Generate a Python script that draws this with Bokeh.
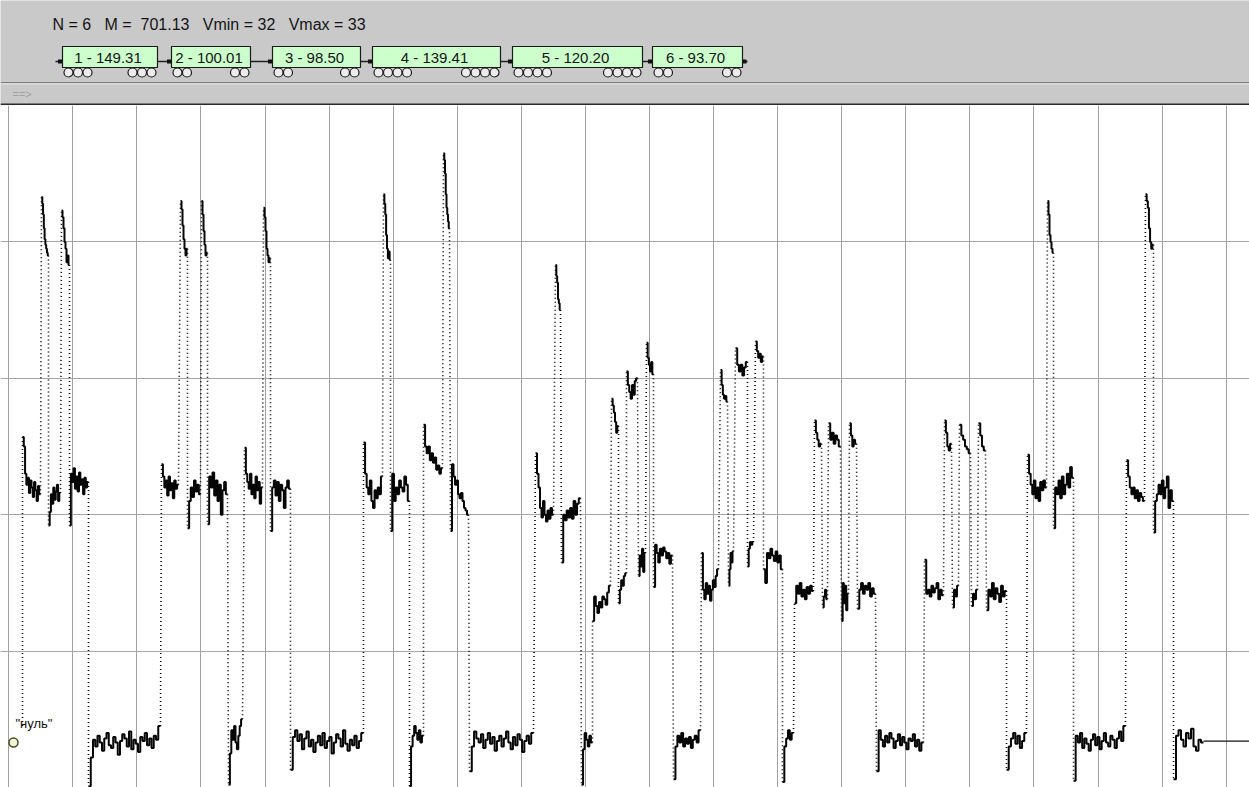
import numpy as np
from bokeh.plotting import figure
from bokeh.layouts import column
from bokeh.models import Range1d, FixedTicker
from bokeh.embed import file_html
from bokeh.resources import INLINE
from bokeh.core.properties import value

FONT = value("Liberation Sans")
NB = "\u00a0"

# ---------------- data ----------------
wagon_numbers = [1, 2, 3, 4, 5, 6]
wagon_weights = [149.31, 100.01, 98.50, 139.41, 120.20, 93.70]
wagon_axles = [6, 4, 4, 8, 8, 4]
v_min = 32
v_max = 33

zero_label = '"нуль"'
zero_time = 13
zero_level = 0.33
tail_level = 0.34
tail_end = 1249

# signal: solid stretches (start time, end time, sampled levels); jumps between them are dotted
seg_start = [22, 41, 48, 61, 69, 88, 161, 180, 187, 201, 207, 228, 244, 263, 270,
             290, 363, 383, 390, 409, 423, 443, 450, 469, 535, 555, 561, 581, 592, 611,
             618, 626, 638, 646, 653, 673, 701, 720, 728, 735, 747, 755, 763, 782, 794,
             814, 822, 828, 841, 849, 857, 876, 924, 944, 952, 959, 971, 978, 986, 1006,
             1027, 1047, 1053, 1073, 1126, 1145, 1153, 1173]
seg_end = [40, 48, 60, 69, 88, 160, 178, 187, 200, 207, 227, 242, 262, 270, 290,
           363, 382, 390, 409, 423, 442, 449, 468, 533, 553, 560, 580, 592, 610, 618,
           626, 637, 645, 653, 672, 700, 718, 727, 733, 747, 753, 763, 782, 793, 813,
           821, 827, 840, 848, 856, 875, 923, 943, 951, 958, 970, 977, 985, 1006, 1026,
           1046, 1053, 1073, 1125, 1144, 1153, 1173, 1203]
seg_values = [
    [2.57, 2.5, 2.3, 2.22, 2.27, 2.16, 2.25, 2.2, 2.13, 2.24, 2.18, 2.1, 2.21, 2.15],
    [4.33, 4.28, 4.2, 4.1, 4.02, 3.98, 3.95, 3.92, 3.9],
    [1.92, 2.02, 2.15, 2.08, 2.2, 2.11, 2.17, 2.22, 2.1, 2.16],
    [4.23, 4.18, 4.1, 4.0, 3.95, 3.85, 3.9, 3.83],
    [1.92, 2.3, 2.24, 2.34, 2.19, 2.28, 2.17, 2.31, 2.22, 2.26, 2.15, 2.27, 2.2, 2.24],
    [0.01, 0.22, 0.35, 0.3, 0.38, 0.33, 0.27, 0.36, 0.4, 0.31, 0.29, 0.37, 0.33, 0.24,
     0.34, 0.39, 0.36, 0.3, 0.41, 0.28, 0.35, 0.32, 0.26, 0.37, 0.34, 0.4, 0.31, 0.36,
     0.29, 0.38, 0.35, 0.45],
    [2.37, 2.28, 2.2, 2.25, 2.14, 2.28, 2.18, 2.23, 2.12, 2.25, 2.19, 2.22],
    [4.3, 4.24, 4.12, 4.02, 3.95, 3.9, 3.95],
    [1.9, 2.1, 2.2, 2.13, 2.25, 2.17, 2.22, 2.15],
    [4.3, 4.2, 4.08, 3.98, 3.9, 3.92],
    [1.93, 2.28, 2.2, 2.31, 2.14, 2.25, 2.1, 2.22, 2.0, 2.18, 2.24, 2.15],
    [0.02, 0.25, 0.42, 0.35, 0.45, 0.33, 0.28, 0.38, 0.45, 0.5],
    [2.49, 2.3, 2.24, 2.19, 2.3, 2.15, 2.22, 2.12, 2.28, 2.18, 2.24, 2.08, 2.2],
    [4.25, 4.18, 4.08, 3.95, 3.9, 3.85, 3.88],
    [1.88, 2.2, 2.25, 2.14, 2.24, 2.1, 2.22, 2.18, 2.05, 2.2, 2.25, 2.19],
    [0.13, 0.37, 0.42, 0.34, 0.39, 0.28, 0.36, 0.41, 0.3, 0.35, 0.26, 0.33, 0.38, 0.31,
     0.4, 0.29, 0.34, 0.37, 0.25, 0.33, 0.39, 0.36, 0.3, 0.42, 0.32, 0.27, 0.35, 0.31,
     0.38, 0.29, 0.34, 0.4],
    [2.53, 2.3, 2.2, 2.15, 2.25, 2.1, 2.05, 2.18, 2.12, 2.2, 2.15, 2.28],
    [4.35, 4.28, 4.2, 4.05, 3.95, 3.88, 3.93, 3.87],
    [1.88, 2.3, 2.1, 2.2, 2.15, 2.25, 2.2, 2.17, 2.28, 2.22, 2.1],
    [0.01, 0.3, 0.38, 0.45, 0.4, 0.35, 0.42, 0.33, 0.38],
    [2.66, 2.5, 2.45, 2.5, 2.4, 2.45, 2.38, 2.42, 2.33, 2.36, 2.3, 2.34],
    [4.65, 4.6, 4.5, 4.35, 4.25, 4.2, 4.15, 4.1],
    [1.88, 2.37, 2.28, 2.22, 2.25, 2.15, 2.12, 2.16, 2.1, 2.05, 2.03, 2.0],
    [0.12, 0.3, 0.41, 0.36, 0.33, 0.39, 0.29, 0.35, 0.4, 0.32, 0.37, 0.27, 0.34, 0.38,
     0.3, 0.36, 0.41, 0.33, 0.28, 0.37, 0.31, 0.39, 0.35, 0.26, 0.34, 0.38, 0.32, 0.4],
    [2.45, 2.3, 2.2, 2.05, 1.98, 2.1, 2.0, 1.95, 2.03, 1.97, 2.05, 2.0],
    [3.83, 3.75, 3.7, 3.58, 3.55, 3.5],
    [1.65, 2.0, 1.96, 2.03, 1.98, 2.05, 1.97, 2.1, 2.0, 2.08, 2.12],
    [0.02, 0.28, 0.4, 0.35, 0.3, 0.38, 0.33],
    [1.22, 1.4, 1.33, 1.28, 1.36, 1.32, 1.4, 1.38, 1.34, 1.43, 1.48],
    [2.85, 2.8, 2.75, 2.68, 2.6, 2.65],
    [1.35, 1.45, 1.52, 1.48, 1.55, 1.57],
    [3.05, 2.95, 2.9, 2.85, 2.95, 2.88, 2.98, 3.0],
    [1.55, 1.7, 1.62, 1.75, 1.58, 1.72],
    [3.26, 3.15, 3.1, 3.05, 3.12, 3.03],
    [1.47, 1.78, 1.72, 1.65, 1.75, 1.7, 1.76, 1.73, 1.68, 1.72, 1.64, 1.7],
    [0.06, 0.3, 0.38, 0.33, 0.4, 0.3, 0.36, 0.32, 0.37, 0.29, 0.35, 0.38, 0.33, 0.42],
    [1.72, 1.45, 1.38, 1.5, 1.42, 1.48, 1.37, 1.45, 1.52, 1.47, 1.55, 1.6],
    [3.06, 2.95, 2.88, 2.85, 2.87, 2.83],
    [1.48, 1.6, 1.72, 1.65, 1.73],
    [3.22, 3.1, 3.05, 3.1, 3.02, 3.08, 3.12],
    [1.62, 1.75, 1.8, 1.78, 1.8],
    [3.27, 3.2, 3.15, 3.18, 3.12, 3.16],
    [1.6, 1.5, 1.72, 1.68, 1.75, 1.7, 1.66, 1.73, 1.65, 1.7, 1.6],
    [0.04, 0.3, 0.36, 0.42, 0.35, 0.4],
    [1.35, 1.48, 1.42, 1.5, 1.4, 1.45, 1.38, 1.47, 1.42, 1.48, 1.44],
    [2.69, 2.6, 2.55, 2.5, 2.52],
    [1.32, 1.4, 1.45, 1.38],
    [2.67, 2.55, 2.6, 2.52, 2.58, 2.55, 2.5],
    [1.22, 1.5, 1.35, 1.48, 1.3, 1.42],
    [2.67, 2.58, 2.5, 2.55, 2.52],
    [1.31, 1.45, 1.5, 1.42, 1.48, 1.45, 1.5, 1.4, 1.46, 1.42],
    [0.12, 0.42, 0.35, 0.3, 0.38, 0.33, 0.4, 0.36, 0.29, 0.34, 0.39, 0.31, 0.37, 0.33,
     0.28, 0.36, 0.34, 0.39, 0.3, 0.35, 0.27, 0.33],
    [1.67, 1.42, 1.45, 1.4, 1.48, 1.43, 1.46, 1.5, 1.38, 1.45, 1.41],
    [2.69, 2.6, 2.5, 2.47, 2.52],
    [1.32, 1.45, 1.4, 1.48],
    [2.66, 2.58, 2.55, 2.5, 2.48, 2.45],
    [1.33, 1.42, 1.38, 1.45],
    [2.67, 2.58, 2.5, 2.47],
    [1.3, 1.45, 1.4, 1.5, 1.38, 1.46, 1.42, 1.36, 1.48, 1.4, 1.44],
    [0.13, 0.3, 0.36, 0.4, 0.32, 0.38, 0.29, 0.34, 0.4],
    [2.44, 2.3, 2.22, 2.15, 2.25, 2.12, 2.2, 2.1, 2.24, 2.18, 2.25, 2.2],
    [4.3, 4.2, 4.05, 4.0, 3.95, 3.92],
    [1.9, 2.2, 2.15, 2.25, 2.12, 2.28, 2.15, 2.22, 2.3, 2.2, 2.35, 2.27],
    [0.05, 0.38, 0.33, 0.4, 0.29, 0.36, 0.32, 0.27, 0.35, 0.39, 0.31, 0.37, 0.28, 0.34,
     0.4, 0.33, 0.3, 0.38, 0.35, 0.29, 0.36, 0.41, 0.34, 0.45],
    [2.4, 2.28, 2.2, 2.15, 2.2, 2.12, 2.18, 2.1, 2.16, 2.13, 2.1],
    [4.35, 4.3, 4.25, 4.1, 4.0, 3.95, 3.98],
    [1.87, 2.1, 2.15, 2.22, 2.15, 2.25, 2.12, 2.2, 2.28, 2.05, 2.18, 2.1],
    [0.06, 0.38, 0.42, 0.35, 0.3, 0.4, 0.36, 0.43, 0.3, 0.27, 0.35, 0.33],
]

# ---------------- layout (header) ----------------
W = 1249
HEAD_H = 105
PLOT_H = 787 - HEAD_H
box_left = [62, 171, 272, 372, 512, 652]
box_right = [157, 250, 360, 500, 642, 742]
HEAD_GRAY = "#c9c9c9"

h = figure(width=W, height=HEAD_H, x_range=Range1d(0, W), y_range=Range1d(HEAD_H, 0),
           x_axis_location=None, y_axis_location=None, toolbar_location=None,
           output_backend="svg", min_border=0, outline_line_color=None,
           background_fill_color=HEAD_GRAY, border_fill_color=HEAD_GRAY)
h.grid.visible = False

total_mass = sum(wagon_weights)
head_text = ("N = %d" + NB * 2 + " M = " + NB + "%.2f" + NB * 2 + " Vmin = %d" + NB * 2 + " Vmax = %d") % (
    len(wagon_numbers), total_mass, v_min, v_max)
h.text(x=[52], y=[24], text=[head_text], text_font=FONT, text_font_size="16px",
       text_baseline="middle", text_align="left", text_color="#151515")

# couplings
cx0 = [box_left[0] - 7] + box_right
cx1 = box_left + [box_right[-1] + 5]
h.segment(x0=cx0, y0=[61] * len(cx0), x1=cx1, y1=[61] * len(cx1), line_color="#202020", line_width=1.5)
h.rect(x=[l - 2.5 for l in box_left] + [box_right[-1] + 2], y=[61] * (len(box_left) + 1),
       width=4, height=4, fill_color="#101010", line_color=None)

h.quad(left=box_left, right=box_right, top=[46] * 6, bottom=[67] * 6,
       fill_color="#ccffcc", line_color="#1a1a1a", line_width=1.2)
labels = ["%d - %.2f" % (n, w) for n, w in zip(wagon_numbers, wagon_weights)]
h.text(x=[(l + r) / 2 - 2 for l, r in zip(box_left, box_right)], y=[57] * 6, text=labels,
       text_font=FONT, text_font_size="15px", text_baseline="middle", text_align="center",
       text_color="#151515")

wx, wy = [], []
for l, r, ax in zip(box_left, box_right, wagon_axles):
    k = ax // 2
    for i in range(k):
        wx.append(l + 6 + 9.5 * i)
        wx.append(r - 6 - 9.5 * i)
        wy += [72, 72]
h.scatter(x=wx, y=wy, marker="circle", size=9, fill_color="#ececec", line_color="#1a1a1a", line_width=1.2)

h.line([0, W], [82, 82], line_color="#7d7d7d", line_width=1)
h.line([0, W], [83.5, 83.5], line_color="#e6e6e6", line_width=1)
h.text(x=[12], y=[93], text=["==>"], text_font=FONT, text_font_size="11px",
       text_baseline="middle", text_color="#a0a0a0")
h.line([0, W], [104, 104], line_color="#2a2a2a", line_width=2)

# ---------------- main plot ----------------
p = figure(width=W, height=PLOT_H, x_range=Range1d(0, W), y_range=Range1d(0, 5),
           x_axis_location=None, y_axis_location=None, toolbar_location=None,
           output_backend="svg", min_border=0, outline_line_color=None,
           background_fill_color="white", border_fill_color="white")
p.xgrid.ticker = FixedTicker(ticks=[8.2 + 64.08 * k for k in range(20)])
p.ygrid.ticker = FixedTicker(ticks=[1, 2, 3, 4])
p.xgrid.grid_line_color = "#9f9f9f"
p.ygrid.grid_line_color = "#a6a6a6"
p.xgrid.grid_line_width = 1
p.ygrid.grid_line_width = 1

# dotted jumps
jx0 = [seg_start[0]] + seg_end[:-1]
jy0 = [zero_level + 0.12] + [v[-1] for v in seg_values[:-1]]
jx1 = seg_start
jy1 = [v[0] for v in seg_values]
p.segment(x0=jx0, y0=jy0, x1=jx1, y1=jy1, line_color="#000000", line_width=1.6, line_dash="1 3")

# solid sampled stretches as staircases
xs, ys = [], []
for a, b, vals in zip(seg_start, seg_end, seg_values):
    edges = np.linspace(a, b, len(vals) + 1)
    sx, sy = [], []
    for i, v in enumerate(vals):
        sx += [edges[i], edges[i + 1]]
        sy += [v, v]
    xs.append(sx)
    ys.append(sy)
p.multi_line(xs=xs, ys=ys, line_color="#050505", line_width=2.0)

p.line([seg_end[-1], tail_end], [tail_level, tail_level], line_color="#111111", line_width=1.3)

p.scatter(x=[zero_time], y=[zero_level], marker="circle", size=9, fill_color="#f4f4d8",
          line_color="#4a4a20", line_width=1.5)
p.text(x=[15], y=[0.47], text=[zero_label], text_font=FONT, text_font_size="13px",
       text_baseline="middle", text_color="#111111")

layout = column(h, p, spacing=0)
open("out.html", "w").write(file_html(layout, INLINE))
